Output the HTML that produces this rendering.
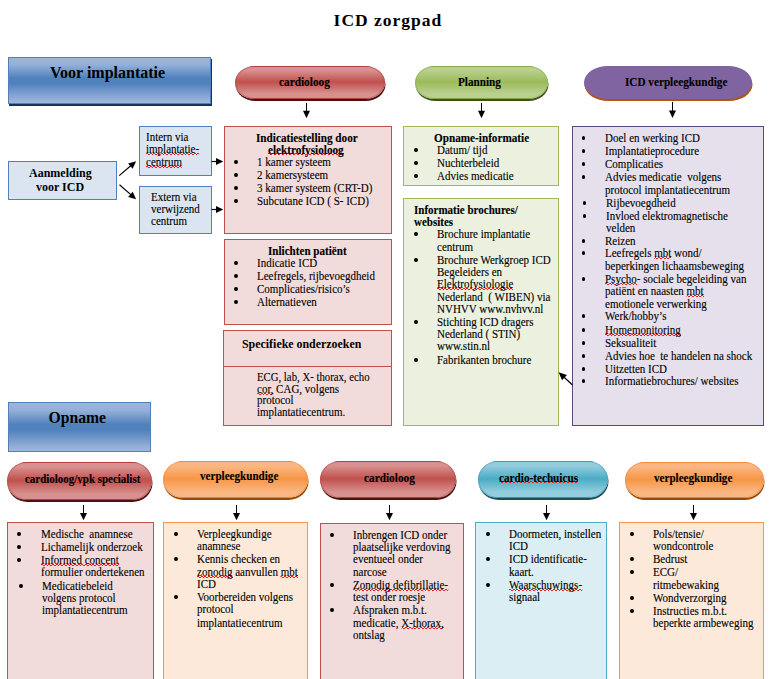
<!DOCTYPE html>
<html><head><meta charset="utf-8"><title>ICD zorgpad</title><style>
html,body{margin:0;padding:0;background:#fff;}
body{width:778px;height:679px;position:relative;overflow:hidden;font-family:'Liberation Serif', serif;color:#000;}
.t{position:absolute;white-space:pre;line-height:1;font-family:'Liberation Serif', serif;color:#000;transform-origin:0 0;-webkit-text-stroke:0.12px #000;}
.b{position:absolute;width:3.8px;height:3.8px;border-radius:50%;background:#000;}
.sp{background-image:repeating-linear-gradient(90deg,#f01c1c 0 2px,transparent 2px 4px),repeating-linear-gradient(90deg,transparent 0 2px,#f01c1c 2px 4px);background-size:100% 1px,100% 1px;background-position:0 11px,0 12px;background-repeat:no-repeat;}
.spb{background-position:0 9px,0 10px;}
</style></head><body>
<div class="t" style="left:333.6px;top:12px;font-size:17.5px;font-weight:bold;letter-spacing:1.0px;-webkit-text-stroke:0;">ICD zorgpad</div>
<div style="position:absolute;left:8px;top:57px;width:203px;height:47px;background:linear-gradient(to bottom,#9cb5db 0px,#95b0d8 6.8px,#4f81bd 20.2px,#4f81bd 25.2px,#8eaad5 39.6px,#9fb8de 45.0px);border:1px solid #4f81bd;box-sizing:border-box;box-shadow:1px 2px 0 #1c3154;"></div>
<div class="t" style="left:50.0px;top:65px;font-size:16px;font-weight:bold;-webkit-text-stroke:0;">Voor implantatie</div>
<div style="position:absolute;left:8px;top:161px;width:109px;height:39px;background:#dbe5f1;border:1px solid #4f81bd;box-sizing:border-box;"></div>
<div class="t" style="left:29.1px;top:166px;font-size:13px;font-weight:bold;transform:scaleX(0.9231);-webkit-text-stroke:0;">Aanmelding</div>
<div class="t" style="left:36.1px;top:180px;font-size:13px;font-weight:bold;transform:scaleX(0.9231);-webkit-text-stroke:0;">voor ICD</div>
<div style="position:absolute;left:139px;top:126px;width:73px;height:50px;background:#dbe5f1;border:1px solid #4f81bd;box-sizing:border-box;"></div>
<div class="t" style="left:146.0px;top:131px;font-size:12px;transform:scaleX(0.9167);">Intern via</div>
<div class="t" style="left:146.0px;top:143px;font-size:12px;transform:scaleX(0.9167);"><span class="sp">implantatie-</span></div>
<div class="t" style="left:146.0px;top:156px;font-size:12px;transform:scaleX(0.9167);"><span class="sp">centrum</span></div>
<div style="position:absolute;left:139px;top:186px;width:73px;height:48px;background:#dbe5f1;border:1px solid #4f81bd;box-sizing:border-box;"></div>
<div class="t" style="left:150.5px;top:191px;font-size:12px;transform:scaleX(0.9167);">Extern via</div>
<div class="t" style="left:150.5px;top:203px;font-size:12px;transform:scaleX(0.9167);">verwijzend</div>
<div class="t" style="left:150.5px;top:215px;font-size:12px;transform:scaleX(0.9167);">centrum</div>
<div style="position:absolute;left:235px;top:66px;width:150px;height:33px;border-radius:20px / 50%;background:linear-gradient(to bottom,#b2403e 0px,#b2403e 1px,#d8918f 1px,#d8918f 4.3px,#c0504d 15.8px,#d8918f 27.7px,#d8918f 32px,#a94442 32px);box-shadow:0.5px 2px 0 #4d1210,inset 0 0 0 1px #b2403e80;"></div>
<div class="t" style="left:278.9px;top:77px;font-size:11.5px;font-weight:bold;transform:scaleX(0.9826);">cardioloog</div>
<div style="position:absolute;left:415px;top:66px;width:133px;height:33px;border-radius:20px / 50%;background:linear-gradient(to bottom,#8aab4c 0px,#8aab4c 1px,#b9d08f 1px,#b9d08f 4.3px,#9bbb59 15.8px,#b9d08f 27.7px,#b9d08f 32px,#7f9f43 32px);box-shadow:0.5px 2px 0 #3f5219,inset 0 0 0 1px #8aab4c80;"></div>
<div class="t" style="left:457.8px;top:77px;font-size:11.5px;font-weight:bold;transform:scaleX(0.9739);">Planning</div>
<div style="position:absolute;left:584px;top:66px;width:168px;height:33px;border-radius:24px / 50%;background:#8064a2;box-shadow:0.5px 2px 0 #b4530e;"></div>
<div class="t" style="left:624.9px;top:77px;font-size:11.5px;font-weight:bold;transform:scaleX(0.9739);">ICD verpleegkundige</div>
<div style="position:absolute;left:224px;top:126px;width:168px;height:108px;background:#f2dcdb;border:1px solid #c0504d;box-sizing:border-box;"></div>
<div class="t" style="left:256.3px;top:133px;font-size:11.5px;font-weight:bold;transform:scaleX(0.9739);">Indicatiestelling door</div>
<div class="t" style="left:268.1px;top:145px;font-size:11.5px;font-weight:bold;transform:scaleX(0.9739);"><span class="sp spb">elektrofysioloog</span></div>
<div class="b" style="left:233.8px;top:160.1px"></div>
<div class="t" style="left:257.0px;top:156px;font-size:12px;transform:scaleX(0.9167);">1 kamer systeem</div>
<div class="b" style="left:233.8px;top:173.1px"></div>
<div class="t" style="left:257.0px;top:169px;font-size:12px;transform:scaleX(0.9167);">2 kamersysteem</div>
<div class="b" style="left:233.8px;top:186.1px"></div>
<div class="t" style="left:257.0px;top:182px;font-size:12px;transform:scaleX(0.9167);">3 kamer systeem (CRT-D)</div>
<div class="b" style="left:233.8px;top:199.1px"></div>
<div class="t" style="left:257.0px;top:195px;font-size:12px;transform:scaleX(0.9167);">Subcutane ICD ( S- ICD)</div>
<div style="position:absolute;left:224px;top:239px;width:168px;height:86px;background:#f2dcdb;border:1px solid #c0504d;box-sizing:border-box;"></div>
<div class="t" style="left:268.1px;top:246px;font-size:11.5px;font-weight:bold;transform:scaleX(0.9652);">Inlichten patiënt</div>
<div class="b" style="left:233.8px;top:261.1px"></div>
<div class="t" style="left:257.0px;top:257px;font-size:12px;transform:scaleX(0.9167);">Indicatie ICD</div>
<div class="b" style="left:233.8px;top:274.1px"></div>
<div class="t" style="left:257.0px;top:270px;font-size:12px;transform:scaleX(0.9167);">Leefregels, rijbevoegdheid</div>
<div class="b" style="left:233.8px;top:287.1px"></div>
<div class="t" style="left:257.0px;top:283px;font-size:12px;transform:scaleX(0.9167);">Complicaties/risico’s</div>
<div class="b" style="left:233.8px;top:300.1px"></div>
<div class="t" style="left:257.0px;top:296px;font-size:12px;transform:scaleX(0.9167);">Alternatieven</div>
<div style="position:absolute;left:223px;top:330px;width:169px;height:96px;background:#f2dcdb;border:1px solid #c0504d;box-sizing:border-box;"></div>
<div style="position:absolute;left:223px;top:366px;width:169px;height:1px;background:#c0504d"></div>
<div class="t" style="left:242.3px;top:337px;font-size:13px;font-weight:bold;transform:scaleX(0.9154);-webkit-text-stroke:0;">Specifieke onderzoeken</div>
<div class="t" style="left:257.3px;top:371px;font-size:12px;transform:scaleX(0.8958);">ECG, lab, X- thorax, echo</div>
<div class="t" style="left:257.3px;top:383px;font-size:12px;transform:scaleX(0.9167);"><span class="sp">cor,</span> CAG, volgens</div>
<div class="t" style="left:257.3px;top:394px;font-size:12px;transform:scaleX(0.9167);">protocol</div>
<div class="t" style="left:257.3px;top:406px;font-size:12px;transform:scaleX(0.9167);">implantatiecentrum.</div>
<div style="position:absolute;left:403px;top:126px;width:156px;height:60px;background:#ebf1de;border:1px solid #9bbb59;box-sizing:border-box;"></div>
<div class="t" style="left:433.6px;top:133px;font-size:11.5px;font-weight:bold;transform:scaleX(0.9739);">Opname-informatie</div>
<div class="b" style="left:413.9px;top:148.1px"></div>
<div class="t" style="left:437.3px;top:144px;font-size:12px;transform:scaleX(0.9167);">Datum/ tijd</div>
<div class="b" style="left:413.9px;top:161.1px"></div>
<div class="t" style="left:437.3px;top:157px;font-size:12px;transform:scaleX(0.9167);">Nuchterbeleid</div>
<div class="b" style="left:413.9px;top:174.1px"></div>
<div class="t" style="left:437.3px;top:170px;font-size:12px;transform:scaleX(0.9167);">Advies medicatie</div>
<div style="position:absolute;left:403px;top:198px;width:156px;height:228px;background:#ebf1de;border:1px solid #9bbb59;box-sizing:border-box;"></div>
<div class="t" style="left:414.2px;top:205px;font-size:11.5px;font-weight:bold;transform:scaleX(0.9565);">Informatie brochures/</div>
<div class="t" style="left:414.2px;top:217px;font-size:11.5px;font-weight:bold;transform:scaleX(0.9565);">websites</div>
<div class="b" style="left:413.8px;top:232.1px"></div>
<div class="t" style="left:437.3px;top:228px;font-size:12px;transform:scaleX(0.9167);">Brochure implantatie</div>
<div class="t" style="left:437.3px;top:241px;font-size:12px;transform:scaleX(0.9167);">centrum</div>
<div class="b" style="left:413.8px;top:258.1px"></div>
<div class="t" style="left:437.3px;top:254px;font-size:12px;transform:scaleX(0.9167);">Brochure Werkgroep ICD</div>
<div class="t" style="left:437.3px;top:266px;font-size:12px;transform:scaleX(0.9167);">Begeleiders en</div>
<div class="t" style="left:437.3px;top:278px;font-size:12px;transform:scaleX(0.9167);"><span class="sp">Elektrofysiologie</span></div>
<div class="t" style="left:437.3px;top:291px;font-size:12px;transform:scaleX(0.9167);">Nederland&nbsp; ( WIBEN) via</div>
<div class="t" style="left:437.3px;top:303px;font-size:12px;transform:scaleX(0.9167);">NVHVV www.nvhvv.nl</div>
<div class="b" style="left:413.8px;top:320.1px"></div>
<div class="t" style="left:437.3px;top:316px;font-size:12px;transform:scaleX(0.9167);">Stichting ICD dragers</div>
<div class="t" style="left:437.3px;top:328px;font-size:12px;transform:scaleX(0.9167);">Nederland ( STIN)</div>
<div class="t" style="left:437.3px;top:340px;font-size:12px;transform:scaleX(0.9167);">www.stin.nl</div>
<div class="b" style="left:413.8px;top:358.1px"></div>
<div class="t" style="left:437.3px;top:354px;font-size:12px;transform:scaleX(0.9167);">Fabrikanten brochure</div>
<div style="position:absolute;left:572px;top:126px;width:192px;height:300px;background:#e5e0ec;border:1px solid #5f497a;box-sizing:border-box;"></div>
<div class="b" style="left:581.6px;top:136.1px"></div>
<div class="t" style="left:605.3px;top:132px;font-size:12px;transform:scaleX(0.9167);">Doel en werking ICD</div>
<div class="b" style="left:581.6px;top:149.1px"></div>
<div class="t" style="left:605.3px;top:145px;font-size:12px;transform:scaleX(0.9167);">Implantatieprocedure</div>
<div class="b" style="left:581.6px;top:162.1px"></div>
<div class="t" style="left:605.3px;top:158px;font-size:12px;transform:scaleX(0.9167);">Complicaties</div>
<div class="b" style="left:581.6px;top:175.1px"></div>
<div class="t" style="left:605.3px;top:171px;font-size:12px;transform:scaleX(0.9167);">Advies medicatie&nbsp; volgens</div>
<div class="t" style="left:605.3px;top:184px;font-size:12px;transform:scaleX(0.9167);">protocol implantatiecentrum</div>
<div class="b" style="left:582.6px;top:201.1px"></div>
<div class="t" style="left:606.3px;top:197px;font-size:12px;transform:scaleX(0.9167);">Rijbevoegdheid</div>
<div class="b" style="left:582.6px;top:214.1px"></div>
<div class="t" style="left:606.3px;top:210px;font-size:12px;transform:scaleX(0.9167);">Invloed elektromagnetische</div>
<div class="t" style="left:606.3px;top:222px;font-size:12px;transform:scaleX(0.9167);">velden</div>
<div class="b" style="left:581.6px;top:239.1px"></div>
<div class="t" style="left:605.3px;top:235px;font-size:12px;transform:scaleX(0.9167);">Reizen</div>
<div class="b" style="left:581.6px;top:251.1px"></div>
<div class="t" style="left:605.3px;top:247px;font-size:12px;transform:scaleX(0.9167);">Leefregels <span class="sp">mbt</span> wond/</div>
<div class="t" style="left:605.3px;top:260px;font-size:12px;transform:scaleX(0.9167);">beperkingen lichaamsbeweging</div>
<div class="b" style="left:581.6px;top:277.1px"></div>
<div class="t" style="left:605.3px;top:273px;font-size:12px;transform:scaleX(0.9167);"><span class="sp">Psycho</span>- sociale begeleiding van</div>
<div class="t" style="left:605.3px;top:285px;font-size:12px;transform:scaleX(0.9167);">patiënt en naasten <span class="sp">mbt</span></div>
<div class="t" style="left:605.3px;top:298px;font-size:12px;transform:scaleX(0.9167);">emotionele verwerking</div>
<div class="b" style="left:581.6px;top:314.1px"></div>
<div class="t" style="left:605.3px;top:310px;font-size:12px;transform:scaleX(0.9167);">Werk/hobby’s</div>
<div class="b" style="left:581.6px;top:328.1px"></div>
<div class="t" style="left:605.3px;top:324px;font-size:12px;transform:scaleX(0.9167);"><span class="sp">Homemonitoring</span></div>
<div class="b" style="left:581.6px;top:341.1px"></div>
<div class="t" style="left:605.3px;top:337px;font-size:12px;transform:scaleX(0.9167);">Seksualiteit</div>
<div class="b" style="left:581.6px;top:354.1px"></div>
<div class="t" style="left:605.3px;top:350px;font-size:12px;transform:scaleX(0.9167);">Advies hoe&nbsp; te handelen na shock</div>
<div class="b" style="left:581.6px;top:367.1px"></div>
<div class="t" style="left:605.3px;top:363px;font-size:12px;transform:scaleX(0.9167);">Uitzetten ICD</div>
<div class="b" style="left:581.6px;top:379.1px"></div>
<div class="t" style="left:605.3px;top:375px;font-size:12px;transform:scaleX(0.9167);">Informatiebrochures/ websites</div>
<div style="position:absolute;left:8px;top:402px;width:143px;height:50px;background:linear-gradient(to bottom,#9cb5db 0px,#95b0d8 7.2px,#4f81bd 21.6px,#4f81bd 26.9px,#8eaad5 42.2px,#9fb8de 48.0px);border:1px solid #4f81bd;box-sizing:border-box;"></div>
<div class="t" style="left:48.5px;top:410px;font-size:15.7px;font-weight:bold;-webkit-text-stroke:0;">Opname</div>
<div style="position:absolute;left:7px;top:462px;width:145px;height:38px;border-radius:20px / 50%;background:linear-gradient(to bottom,#b2403e 0px,#b2403e 1px,#d8918f 1px,#d8918f 4.9px,#c0504d 18.2px,#d8918f 31.9px,#d8918f 37px,#a94442 37px);box-shadow:0.5px 2px 0 #4d1210,inset 0 0 0 1px #b2403e80;"></div>
<div class="t" style="left:24.9px;top:474px;font-size:11.5px;font-weight:bold;transform:scaleX(0.9522);">cardioloog/<span class="sp spb">vpk</span> specialist</div>
<div style="position:absolute;left:163px;top:461px;width:145px;height:37px;border-radius:20px / 50%;background:linear-gradient(to bottom,#f3893a 0px,#f3893a 1px,#fab784 1px,#fab784 4.8px,#f79646 17.8px,#fab784 31.1px,#fab784 36px,#e0761f 36px);box-shadow:0.5px 2px 0 #9a4a06,inset 0 0 0 1px #f3893a80;"></div>
<div class="t" style="left:199.9px;top:471px;font-size:11.5px;font-weight:bold;transform:scaleX(0.9652);">verpleegkundige</div>
<div style="position:absolute;left:320px;top:461px;width:136px;height:37px;border-radius:20px / 50%;background:linear-gradient(to bottom,#b2403e 0px,#b2403e 1px,#d8918f 1px,#d8918f 4.8px,#c0504d 17.8px,#d8918f 31.1px,#d8918f 36px,#a94442 36px);box-shadow:0.5px 2px 0 #4d1210,inset 0 0 0 1px #b2403e80;"></div>
<div class="t" style="left:363.7px;top:473px;font-size:11.5px;font-weight:bold;transform:scaleX(0.9826);">cardioloog</div>
<div style="position:absolute;left:478px;top:461px;width:130px;height:37px;border-radius:20px / 50%;background:linear-gradient(to bottom,#3c9ab4 0px,#3c9ab4 1px,#93cddd 1px,#93cddd 4.8px,#4bacc6 17.8px,#93cddd 31.1px,#93cddd 36px,#2f8aa3 36px);box-shadow:0.5px 2px 0 #174f5e,inset 0 0 0 1px #3c9ab480;"></div>
<div class="t" style="left:499.3px;top:473px;font-size:11.5px;font-weight:bold;transform:scaleX(0.9739);"><span class="sp spb">cardio-techuicus</span></div>
<div style="position:absolute;left:625px;top:462px;width:139px;height:36px;border-radius:20px / 50%;background:linear-gradient(to bottom,#f3893a 0px,#f3893a 1px,#fab784 1px,#fab784 4.7px,#f79646 17.3px,#fab784 30.2px,#fab784 35px,#e0761f 35px);box-shadow:0.5px 2px 0 #9a4a06,inset 0 0 0 1px #f3893a80;"></div>
<div class="t" style="left:654.1px;top:473px;font-size:11.5px;font-weight:bold;transform:scaleX(0.9652);">verpleegkundige</div>
<div style="position:absolute;left:7px;top:522px;width:147px;height:169px;background:#f2dcdb;border:1px solid #c0504d;box-sizing:border-box;"></div>
<div class="b" style="left:17.4px;top:532.1px"></div>
<div class="t" style="left:41.1px;top:528px;font-size:12px;transform:scaleX(0.9167);">Medische&nbsp; anamnese</div>
<div class="b" style="left:17.4px;top:545.1px"></div>
<div class="t" style="left:41.1px;top:541px;font-size:12px;transform:scaleX(0.9167);">Lichamelijk onderzoek</div>
<div class="b" style="left:17.4px;top:558.1px"></div>
<div class="t" style="left:41.1px;top:554px;font-size:12px;transform:scaleX(0.9167);"><span class="sp">Informed concent</span></div>
<div class="t" style="left:41.1px;top:566px;font-size:12px;transform:scaleX(0.9167);">formulier ondertekenen</div>
<div class="b" style="left:19.1px;top:584.1px"></div>
<div class="t" style="left:42.3px;top:580px;font-size:12px;transform:scaleX(0.9167);">Medicatiebeleid</div>
<div class="t" style="left:42.3px;top:592px;font-size:12px;transform:scaleX(0.9167);">volgens protocol</div>
<div class="t" style="left:42.3px;top:604px;font-size:12px;transform:scaleX(0.9167);">implantatiecentrum</div>
<div style="position:absolute;left:163px;top:522px;width:145px;height:169px;background:#fde9d9;border:1px solid #f79646;box-sizing:border-box;"></div>
<div class="b" style="left:174.1px;top:532.1px"></div>
<div class="t" style="left:197.3px;top:528px;font-size:12px;transform:scaleX(0.9167);">Verpleegkundige</div>
<div class="t" style="left:197.3px;top:540px;font-size:12px;transform:scaleX(0.9167);">anamnese</div>
<div class="b" style="left:174.1px;top:557.1px"></div>
<div class="t" style="left:197.3px;top:553px;font-size:12px;transform:scaleX(0.9167);">Kennis checken en</div>
<div class="t" style="left:197.3px;top:566px;font-size:12px;transform:scaleX(0.9167);"><span class="sp">zonodig</span> aanvullen <span class="sp">mbt</span></div>
<div class="t" style="left:197.3px;top:578px;font-size:12px;transform:scaleX(0.9167);">ICD</div>
<div class="b" style="left:174.1px;top:595.1px"></div>
<div class="t" style="left:197.3px;top:591px;font-size:12px;transform:scaleX(0.9167);">Voorbereiden volgens</div>
<div class="t" style="left:197.3px;top:603px;font-size:12px;transform:scaleX(0.9167);">protocol</div>
<div class="t" style="left:197.3px;top:617px;font-size:12px;transform:scaleX(0.9167);">implantatiecentrum</div>
<div style="position:absolute;left:320px;top:523px;width:144px;height:168px;background:#f2dcdb;border:1px solid #c0504d;box-sizing:border-box;"></div>
<div class="b" style="left:329.9px;top:533.1px"></div>
<div class="t" style="left:353.1px;top:529px;font-size:12px;transform:scaleX(0.9167);">Inbrengen ICD onder</div>
<div class="t" style="left:353.1px;top:541px;font-size:12px;transform:scaleX(0.9167);">plaatselijke verdoving</div>
<div class="t" style="left:353.1px;top:553px;font-size:12px;transform:scaleX(0.9167);">eventueel onder</div>
<div class="t" style="left:353.1px;top:566px;font-size:12px;transform:scaleX(0.9167);">narcose</div>
<div class="b" style="left:329.9px;top:583.1px"></div>
<div class="t" style="left:353.1px;top:579px;font-size:12px;transform:scaleX(0.9167);"><span class="sp">Zonodig defibrillatie-</span></div>
<div class="t" style="left:353.1px;top:591px;font-size:12px;transform:scaleX(0.9167);">test onder roesje</div>
<div class="b" style="left:329.9px;top:608.1px"></div>
<div class="t" style="left:353.1px;top:604px;font-size:12px;transform:scaleX(0.9167);">Afspraken m.b.t.</div>
<div class="t" style="left:353.1px;top:617px;font-size:12px;transform:scaleX(0.9167);">medicatie, <span class="sp">X-thorax,</span></div>
<div class="t" style="left:353.1px;top:629px;font-size:12px;transform:scaleX(0.9167);">ontslag</div>
<div style="position:absolute;left:475px;top:522px;width:132px;height:169px;background:#daeef3;border:1px solid #4bacc6;box-sizing:border-box;"></div>
<div class="b" style="left:485.8px;top:532.1px"></div>
<div class="t" style="left:509.0px;top:528px;font-size:12px;transform:scaleX(0.9167);">Doormeten, instellen</div>
<div class="t" style="left:509.0px;top:540px;font-size:12px;transform:scaleX(0.9167);">ICD</div>
<div class="b" style="left:485.8px;top:557.1px"></div>
<div class="t" style="left:509.0px;top:553px;font-size:12px;transform:scaleX(0.9167);">ICD identificatie-</div>
<div class="t" style="left:509.0px;top:566px;font-size:12px;transform:scaleX(0.9167);">kaart.</div>
<div class="b" style="left:485.8px;top:583.1px"></div>
<div class="t" style="left:509.0px;top:579px;font-size:12px;transform:scaleX(0.9167);"><span class="sp">Waarschuwings-</span></div>
<div class="t" style="left:509.0px;top:591px;font-size:12px;transform:scaleX(0.9167);">signaal</div>
<div style="position:absolute;left:619px;top:522px;width:145px;height:169px;background:#fde9d9;border:1px solid #f79646;box-sizing:border-box;"></div>
<div class="b" style="left:629.9px;top:532.1px"></div>
<div class="t" style="left:653.3px;top:528px;font-size:12px;transform:scaleX(0.9167);">Pols/tensie/</div>
<div class="t" style="left:653.3px;top:540px;font-size:12px;transform:scaleX(0.9167);">wondcontrole</div>
<div class="b" style="left:629.9px;top:557.1px"></div>
<div class="t" style="left:653.3px;top:553px;font-size:12px;transform:scaleX(0.9167);">Bedrust</div>
<div class="b" style="left:629.9px;top:570.1px"></div>
<div class="t" style="left:653.3px;top:566px;font-size:12px;transform:scaleX(0.9167);">ECG/</div>
<div class="t" style="left:653.3px;top:579px;font-size:12px;transform:scaleX(0.9167);">ritmebewaking</div>
<div class="b" style="left:629.9px;top:596.1px"></div>
<div class="t" style="left:653.3px;top:592px;font-size:12px;transform:scaleX(0.9167);">Wondverzorging</div>
<div class="b" style="left:629.9px;top:609.1px"></div>
<div class="t" style="left:653.3px;top:605px;font-size:12px;transform:scaleX(0.9167);">Instructies m.b.t.</div>
<div class="t" style="left:653.3px;top:617px;font-size:12px;transform:scaleX(0.9167);">beperkte armbeweging</div>
<svg style="position:absolute;left:0;top:0" width="778" height="679"><line x1="119.2" y1="175.6" x2="130.76" y2="165.82" stroke="#000" stroke-width="1.2"/><path d="M136.1 161.3 L132.64 168.82 L128.11 163.47 Z" fill="#000"/><line x1="119.5" y1="184.8" x2="130.81" y2="194.61" stroke="#000" stroke-width="1.2"/><path d="M136.1 199.2 L128.14 196.93 L132.73 191.64 Z" fill="#000"/><line x1="211.5" y1="161.5" x2="216.50" y2="161.50" stroke="#000" stroke-width="1.2"/><path d="M223.2 161.5 L216.00 164.90 L216.00 158.10 Z" fill="#000"/><line x1="211.5" y1="209.5" x2="216.50" y2="209.50" stroke="#000" stroke-width="1.2"/><path d="M223.2 209.5 L216.00 212.90 L216.00 206.10 Z" fill="#000"/><line x1="306.5" y1="102.9" x2="306.50" y2="111.20" stroke="#000" stroke-width="1"/><path d="M306.5 118.2 L303.00 110.70 L310.00 110.70 Z" fill="#000"/><line x1="481.5" y1="102.9" x2="481.50" y2="111.20" stroke="#000" stroke-width="1"/><path d="M481.5 118.2 L478.00 110.70 L485.00 110.70 Z" fill="#000"/><line x1="672.5" y1="101.9" x2="672.50" y2="111.10" stroke="#000" stroke-width="1"/><path d="M672.5 118.1 L669.00 110.60 L676.00 110.60 Z" fill="#000"/><line x1="572.5" y1="385" x2="564.12" y2="377.28" stroke="#000" stroke-width="1.2"/><path d="M558.6 372.2 L566.92 374.97 L562.05 380.27 Z" fill="#000"/><line x1="83.5" y1="505" x2="83.50" y2="513.50" stroke="#000" stroke-width="1"/><path d="M83.5 520.3 L80.00 513.00 L87.00 513.00 Z" fill="#000"/><line x1="236.5" y1="505" x2="236.50" y2="513.50" stroke="#000" stroke-width="1"/><path d="M236.5 520.3 L233.00 513.00 L240.00 513.00 Z" fill="#000"/><line x1="389.5" y1="505" x2="389.50" y2="513.50" stroke="#000" stroke-width="1"/><path d="M389.5 520.3 L386.00 513.00 L393.00 513.00 Z" fill="#000"/><line x1="546.5" y1="505" x2="546.50" y2="513.50" stroke="#000" stroke-width="1"/><path d="M546.5 520.3 L543.00 513.00 L550.00 513.00 Z" fill="#000"/><line x1="693.5" y1="505" x2="693.50" y2="513.50" stroke="#000" stroke-width="1"/><path d="M693.5 520.3 L690.00 513.00 L697.00 513.00 Z" fill="#000"/></svg>
</body></html>
